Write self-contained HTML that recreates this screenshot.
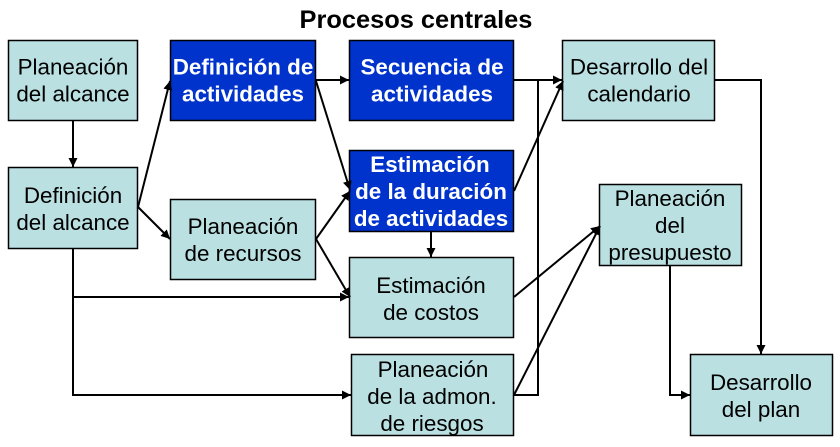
<!DOCTYPE html>
<html><head><meta charset="utf-8"><style>
html,body{margin:0;padding:0;background:#fff}
svg{display:block}
text{font-family:"Liberation Sans",Arial,sans-serif;font-size:22.4px;text-anchor:middle;fill:#000}
.b{font-weight:bold;fill:#fff}
.l{fill:#bae0e2;stroke:#000;stroke-width:1.5}
.d{fill:#0033cc;stroke:#000;stroke-width:1.5}
.c{fill:none;stroke:#000;stroke-width:2}
</style></head><body>
<svg width="840" height="447" viewBox="0 0 840 447" xmlns="http://www.w3.org/2000/svg">
<defs><marker id="a" markerUnits="userSpaceOnUse" markerWidth="10" markerHeight="10" refX="9" refY="4.5" orient="auto"><path d="M0 0L9 4.5L0 9z" fill="#000"/></marker></defs>
<text x="416" y="28" style="font-size:25.4px;font-weight:bold">Procesos centrales</text>
<rect class="l" x="8.5" y="40.5" width="129" height="80"/>
<rect class="l" x="8.5" y="167.5" width="129" height="81"/>
<rect class="d" x="170.5" y="40.5" width="145" height="80"/>
<rect class="l" x="170.5" y="199.5" width="145" height="80"/>
<rect class="d" x="349.5" y="40.5" width="164" height="80"/>
<rect class="d" x="349.5" y="150.5" width="164" height="81"/>
<rect class="l" x="349.5" y="257.5" width="164" height="80"/>
<rect class="l" x="351.5" y="354.5" width="162" height="81"/>
<rect class="l" x="562.5" y="40.5" width="152" height="80"/>
<rect class="l" x="599.5" y="184.5" width="142" height="81"/>
<rect class="l" x="690.5" y="354.5" width="142" height="81"/>
<path class="c" marker-end="url(#a)" d="M73 120V167"/>
<path class="c" marker-end="url(#a)" d="M138 207L170 81"/>
<path class="c" marker-end="url(#a)" d="M138 207L170 239"/>
<path class="c" marker-end="url(#a)" d="M73 248V297H349"/>
<path class="c" marker-end="url(#a)" d="M73 297V395H351"/>
<path class="c" marker-end="url(#a)" d="M315 80H349"/>
<path class="c" marker-end="url(#a)" d="M316 81L350 190"/>
<path class="c" marker-end="url(#a)" d="M316 239L350 191"/>
<path class="c" marker-end="url(#a)" d="M316 239L350 297"/>
<path class="c" marker-end="url(#a)" d="M513 80H562"/>
<path class="c" marker-end="url(#a)" d="M514 191L563 81"/>
<path class="c" marker-end="url(#a)" d="M431 232V257"/>
<path class="c" d="M514 395H538V80"/>
<path class="c" marker-end="url(#a)" d="M514 297L600 226"/>
<path class="c" marker-end="url(#a)" d="M514 395L600 226"/>
<path class="c" marker-end="url(#a)" d="M715 80H761V354"/>
<path class="c" marker-end="url(#a)" d="M670 265V395H690"/>
<text x="73" y="74.5">Planeación</text><text x="73" y="101.5">del alcance</text>
<text x="73" y="203">Definición</text><text x="73" y="230">del alcance</text>
<text class="b" x="243" y="74.5">Definición de</text><text class="b" x="243" y="101.5">actividades</text>
<text x="243" y="234">Planeación</text><text x="243" y="261">de recursos</text>
<text class="b" x="432" y="74.5">Secuencia de</text><text class="b" x="432" y="101.5">actividades</text>
<text class="b" x="430" y="172">Estimación</text><text class="b" x="431" y="199">de la duración</text><text class="b" x="431" y="226">de actividades</text>
<text x="431" y="293">Estimación</text><text x="431" y="320">de costos</text>
<text x="433" y="377">Planeación</text><text x="432" y="404">de la admon.</text><text x="432" y="431">de riesgos</text>
<text x="639" y="74.5">Desarrollo del</text><text x="639" y="101.5">calendario</text>
<text x="670" y="206">Planeación</text><text x="670" y="233">del</text><text x="670" y="260">presupuesto</text>
<text x="761" y="390">Desarrollo</text><text x="761" y="417">del plan</text>
</svg>
</body></html>
